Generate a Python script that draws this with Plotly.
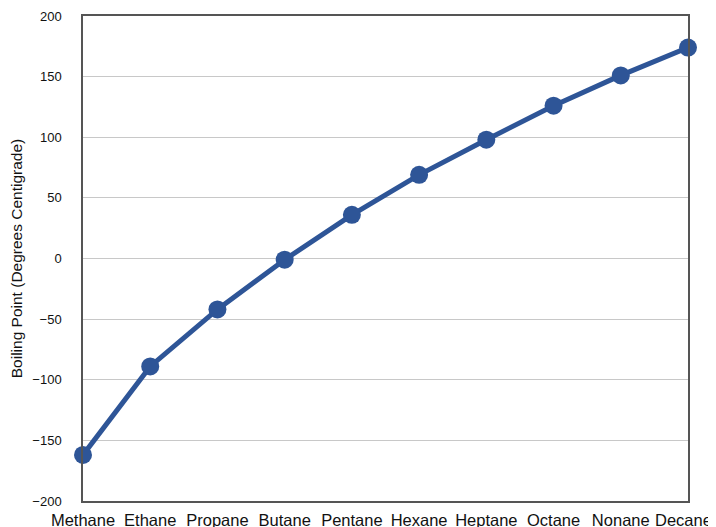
import plotly.graph_objects as go

alkanes = ["Methane", "Ethane", "Propane", "Butane", "Pentane", "Hexane",
           "Heptane", "Octane", "Nonane", "Decane"]
boiling_points = [-162, -89, -42, -1, 36, 69, 98, 126, 151, 174]
x_tick_labels = alkanes[:-1] + ["Decane\u00a0\u00a0"]
y_ticks = [-200, -150, -100, -50, 0, 50, 100, 150, 200]
y_tick_labels = ["\u2212200", "\u2212150", "\u2212100", "\u221250", "0", "50", "100", "150", "200"]

fig = go.Figure()
fig.add_trace(go.Scatter(
    x=alkanes, y=boiling_points, mode="lines+markers",
    line=dict(color="#2E5597", width=5),
    marker=dict(color="#2E5597", size=18),
    cliponaxis=False,
))

fig.update_layout(
    width=716, height=527,
    margin=dict(l=75, r=36, t=8, b=34),
    paper_bgcolor="white", plot_bgcolor="white",
    font=dict(family="Liberation Sans, Arial, sans-serif", size=14, color="#111111"),
    showlegend=False,
)
fig.update_xaxes(
    range=[0, 9], tickvals=alkanes, ticktext=x_tick_labels,
    showgrid=False, showline=True, linecolor="#555555", linewidth=1.5,
    mirror=True, ticks="", tickfont=dict(size=16.5), ticklabelstandoff=3,
    automargin=False,
)
fig.update_yaxes(
    range=[-200, 200], tickvals=y_ticks, ticktext=y_tick_labels,
    showgrid=True, gridcolor="#c8c8c8", gridwidth=1,
    showline=True, linecolor="#555555", linewidth=1.5, mirror=True,
    zeroline=False, ticks="", tickfont=dict(size=13), ticklabelstandoff=17,
    automargin=False,
    title=dict(text="Boiling Point (Degrees Centigrade)", font=dict(size=15.5), standoff=9),
)

fig.write_html("out.html")
